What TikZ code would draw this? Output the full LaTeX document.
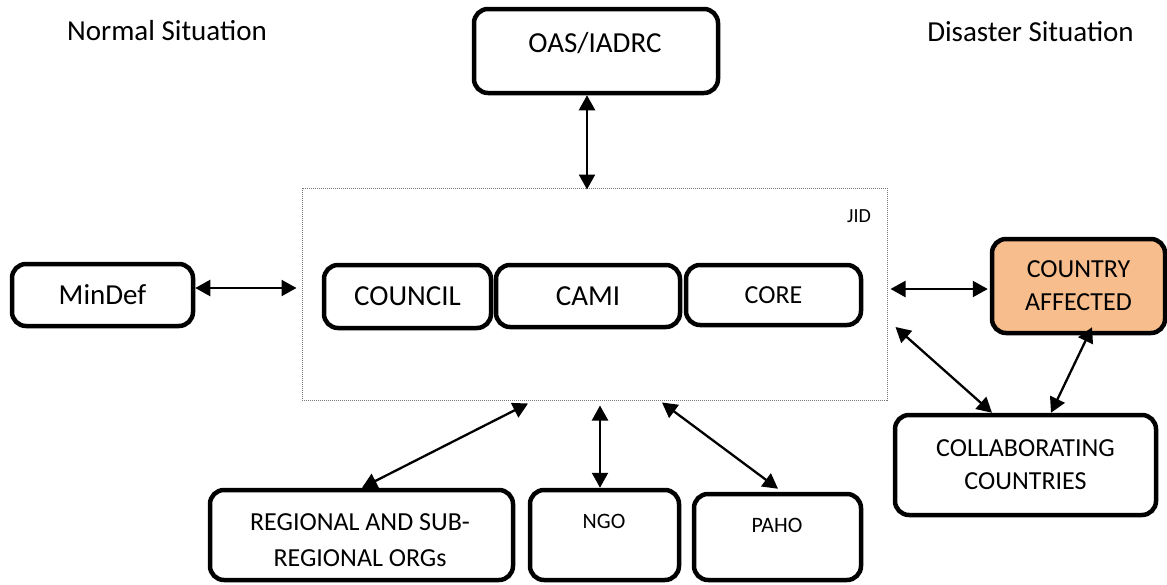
\documentclass[tikz,border=0pt]{standalone}
\usepackage{fontspec}
\setmainfont{Carlito}
\usetikzlibrary{arrows.meta,calc}
\definecolor{peach}{RGB}{247,189,141}
\definecolor{dotgray}{RGB}{120,120,120}
\tikzset{
  box/.style={draw=black, line width=4.5pt, rounded corners=14pt, inner sep=0pt, align=center},
  jidbox/.style={draw=dotgray, line width=1pt, dash pattern=on 1pt off 1pt, inner sep=0pt},
  arr/.style={line width=2.3pt, {Triangle[length=15pt,width=16pt]}-{Triangle[length=15pt,width=16pt]}},
  big/.style={font=\fontsize{29}{35}\selectfont},
  mid/.style={font=\fontsize{26}{33}\selectfont},
  small/.style={font=\fontsize{22}{26}\selectfont},
  tiny/.style={font=\fontsize{20}{24}\selectfont}
}
\begin{document}
\begin{tikzpicture}[x=1pt,y=-1pt]
\useasboundingbox (0,0) rectangle (1167,584);

% headings
\node[big, anchor=base] (normal) at (167,40) {Normal Situation};
\node[big, anchor=base] (disaster) at (1030.5,41) {Disaster Situation};

% JID container
\node[jidbox, minimum width=585pt, minimum height=212pt] (jid) at (594.5,294) {};
\node[tiny, anchor=base] (jidlabel) at (859,222) {JID};

% top box
\node[box, minimum width=244pt, minimum height=84pt] (oas) at (596,51) {};
\node[big, anchor=base] (oastext) at (595,52) {OAS/IADRC};

% inner boxes
\node[box, big, minimum width=167pt, minimum height=63pt] (council) at (407.5,296.5) {COUNCIL};
\node[box, big, minimum width=184pt, minimum height=62pt] (cami) at (588,296) {CAMI};
\node[box, mid, minimum width=175pt, minimum height=60pt] (core) at (773.5,295) {CORE};

% left
\node[box, big, minimum width=181pt, minimum height=62pt] (mindef) at (102.5,295) {MinDef};

% right
\node[box, mid, fill=peach, minimum width=173pt, minimum height=94pt] (country) at (1078.5,286) {COUNTRY\\AFFECTED};
\node[box, mid, minimum width=261pt, minimum height=100pt] (collab) at (1025.5,465) {COLLABORATING\\COUNTRIES};

% bottom
\node[box, minimum width=303pt, minimum height=90pt] (regional) at (361.5,535) {};
\node[mid, align=center, font=\fontsize{26}{36}\selectfont] (regtext) at (360,540.5) {REGIONAL AND SUB-\\REGIONAL ORGs};
\node[box, minimum width=149pt, minimum height=90pt] (ngo) at (604.5,535) {};
\node[small, anchor=base] (ngotext) at (604,528) {NGO};
\node[box, minimum width=167pt, minimum height=86pt] (paho) at (777.5,537) {};
\node[small, anchor=base] (pahotext) at (777,532) {PAHO};

% connectors
\draw[arr] ($(oas.south)+(-9,0)$) -- ($(jid.north)+(-7.5,2)$);
\draw[arr] ($(mindef.east)+(0,-7)$) -- ($(jid.west)+(-5,-6)$);
\draw[arr] ($(jid.east)+(3,-5)$) -- ($(country.west)+(-2,3)$);
\draw[arr] ($(jid.east)+(8,33)$) -- ($(collab.north)+(-33.5,0)$);
\draw[arr] ($(country.south)+(13.5,-8)$) -- ($(collab.north)+(25.5,0)$);
\draw[arr] ($(regional.north)+(0.5,0)$) -- ($(jid.south)+(-66.5,3)$);
\draw[arr] ($(ngo.north)+(-4.5,0)$) -- ($(jid.south)+(5.5,5)$);
\draw[arr] ($(paho.north)+(0.5,-3)$) -- ($(jid.south)+(67.5,2)$);
\end{tikzpicture}
\end{document}
